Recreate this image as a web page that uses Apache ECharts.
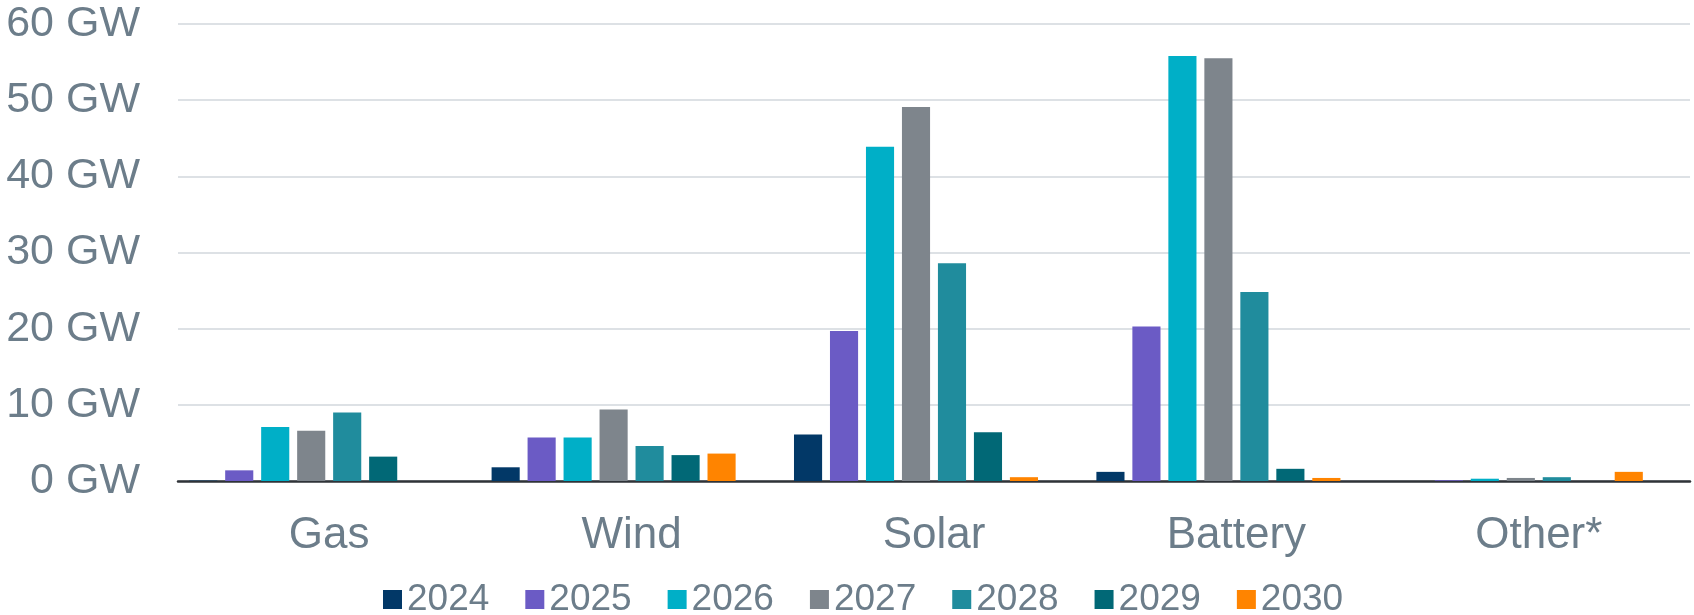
<!DOCTYPE html>
<html>
<head>
<meta charset="utf-8">
<script src="https://cdn.jsdelivr.net/npm/echarts@6/dist/echarts.min.js"></script>
<style>
  html, body { margin: 0; padding: 0; background: #fff; }
  #chart { width: 1694px; height: 615px; }
</style>
</head>
<body>
<div id="chart"></div>
<script>
// categories + yearly additions (GW)
const categories = ["Gas", "Wind", "Solar", "Battery", "Other*"];
const years = ["2024", "2025", "2026", "2027", "2028", "2029", "2030"];
const colors = ["#023867", "#6B5BC5", "#00AFC7", "#7E858C", "#208C9D", "#016876", "#FF8400"];

const y2024 = [0.05, 1.8, 6.1, 1.2, 0];
const y2025 = [1.4, 5.7, 19.7, 20.3, 0.1];
const y2026 = [7.1, 5.7, 43.9, 55.8, 0.3];
const y2027 = [6.6, 9.4, 49.1, 55.5, 0.4];
const y2028 = [9.0, 4.6, 28.6, 24.8, 0.5];
const y2029 = [3.2, 3.4, 6.4, 1.6, 0];
const y2030 = [0, 3.6, 0.5, 0.4, 1.2];

const yTicks = { min: 0, max: 60, interval: 10 };

const values = [y2024, y2025, y2026, y2027, y2028, y2029, y2030];
const textColor = "#6C7D8A";
const font = "Liberation Sans, Arial, sans-serif";

let myChart = echarts.init(document.getElementById("chart"));

let seriesData = [];
years.forEach((year, i) => {
  seriesData.push({
    name: year,
    type: "bar",
    barGap: "28%",
    barCategoryGap: "7.4%",
    itemStyle: { color: colors[i] },
    data: values[i],
  });
});
// the source chart leaves an empty slot after 2030 in each group
seriesData.push({
  name: "_blank",
  type: "bar",
  data: categories.map(() => null),
});

let option = {
  animation: false,
  textStyle: { fontFamily: font },
  grid: {
    left: 178,
    right: 4,
    top: 24,
    bottom: 134,
  },
  legend: {
    data: years,
    left: 378,
    top: 576,
    icon: "rect",
    itemWidth: 19,
    itemHeight: 19,
    itemGap: 36,
    textStyle: {
      color: textColor,
      fontSize: 37,
      fontFamily: font,
    },
  },
  xAxis: {
    type: "category",
    data: categories,
    axisTick: { show: false },
    axisLine: {
      lineStyle: { color: "#2F3338", width: 2.5 },
    },
    axisLabel: {
      color: textColor,
      fontSize: 44,
      margin: 33,
      interval: 0,
      fontFamily: font,
    },
  },
  yAxis: {
    type: "value",
    min: yTicks.min,
    max: yTicks.max,
    interval: yTicks.interval,
    axisLine: { show: false },
    axisTick: { show: false },
    axisLabel: {
      color: textColor,
      fontSize: 43,
      margin: 38,
      fontFamily: font,
      formatter: "{value} GW",
    },
    splitLine: {
      lineStyle: { color: "#DDE1E5", width: 2 },
    },
  },
  series: seriesData,
};

myChart.setOption(option);
</script>
</body>
</html>
